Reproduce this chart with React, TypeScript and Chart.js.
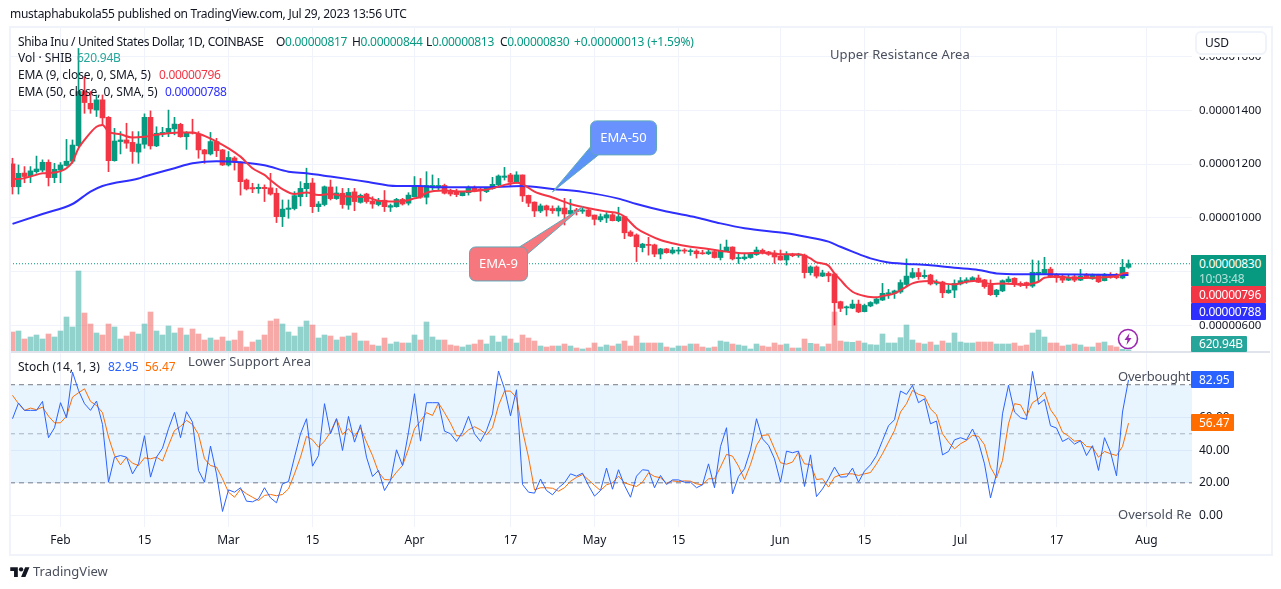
import { useEffect, useRef } from 'react';
import { Chart, registerables } from 'chart.js';

Chart.register(...registerables);

// prices are kept in units of 0.00000001 USD, one entry per day from Jan 24 to Jul 29
const candleOpen = [
  1201,1116,1167,1156,1172,1178,1207,1150,1178,1195, 1211,1269,1470,1426,1401,1439,1374,1213,1284,1290,
  1281,1245,1274,1374,1268,1312,1318,1331,1348,1302, 1318,1312,1253,1238,1284,1253,1197,1223,1207,1141,
  1113,1109,1114,1112,1092,1005,1032,1035,1079,1109, 1130,1042,1050,1115,1072,1092,1048,1097,1058,1089,
  1063,1050,1066,1040,1042,1069,1055,1079,1119,1077, 1112,1112,1121,1098,1098,1083,1094,1114,1107,1098,
  1109,1123,1151,1160,1131,1160,1084,1059,1026,1045, 1035,1026,1037,1015,1030,1025,1030,1011,993,1000,
  1012,990,1005,948,937,890,902,900,866,885, 870,877,881,875,877,870,867,875,853,877,
  892,849,849,853,864,880,874,870,859,844, 865,861,862,797,818,784,794,792,689,666,
  665,680,652,673,683,695,717,720,725,753, 779,797,782,788,757,762,722,732,755,763,
  767,777,770,751,715,729,763,776,757,760, 747,794,794,810,790,784,769,782,769,788,
  774,788,767,788,791,777,817,
];
const candleHigh = [
  1222,1197,1191,1191,1230,1216,1216,1203,1206,1292, 1290,1630,1525,1470,1457,1457,1377,1333,1321,1352,
  1321,1321,1387,1398,1339,1337,1401,1374,1352,1321, 1367,1321,1255,1318,1296,1255,1247,1228,1209,1145,
  1129,1126,1123,1166,1110,1067,1067,1098,1135,1185, 1147,1061,1119,1141,1116,1110,1110,1110,1089,1092,
  1079,1073,1102,1052,1073,1073,1094,1154,1147,1172, 1160,1147,1126,1107,1107,1099,1119,1119,1114,1114,
  1151,1160,1188,1166,1172,1160,1085,1060,1052,1048, 1045,1045,1073,1069,1036,1040,1032,1011,1015,1020,
  1017,1040,1005,953,941,906,928,903,887,887, 891,891,886,885,882,880,882,879,903,918,
  893,869,869,871,892,885,876,879,881,875, 869,869,866,822,822,806,800,794,691,673,
  695,695,680,689,701,757,735,732,770,848, 813,813,807,791,770,765,751,770,779,778,
  782,788,772,770,735,770,782,778,763,762, 844,841,854,817,794,791,788,791,809,794,
  792,791,794,797,794,846,844,
];
const candleLow = [
  1089,1089,1131,1131,1166,1172,1119,1131,1131,1193, 1203,1265,1389,1389,1377,1346,1172,1211,1238,1259,
  1203,1203,1259,1256,1265,1302,1302,1309,1300,1255, 1312,1222,1203,1234,1228,1195,1193,1178,1085,1104,
  1094,1092,1061,1085,983,968,999,1030,1045,1079, 1020,1024,1045,1067,1069,1036,1032,1027,1055,1055,
  1036,1045,1024,1024,1040,1048,1048,1079,1073,1052, 1104,1104,1089,1082,1079,1082,1085,1097,1063,1094,
  1107,1119,1141,1119,1129,1061,1042,1005,1020,1007, 1017,1007,974,1011,1011,1017,1005,974,986,983,
  989,986,923,931,838,874,862,856,848,869, 866,866,869,861,851,865,864,851,844,875,
  844,831,844,850,861,866,861,831,843,825, 856,854,777,788,777,782,763,602,652,640,
  663,648,651,670,680,693,701,701,720,745, 776,772,776,751,751,704,720,704,751,757,
  763,760,739,712,707,726,761,745,745,739, 742,763,792,778,761,760,767,763,767,776,
  772,760,766,776,774,774,813,
];
const candleClose = [
  1116,1166,1154,1175,1182,1207,1150,1181,1197,1211, 1271,1470,1429,1405,1439,1372,1213,1286,1290,1278,
  1247,1275,1374,1268,1315,1318,1333,1349,1302,1315, 1315,1253,1238,1284,1250,1197,1225,1207,1135,1108,
  1108,1114,1109,1089,1005,1033,1037,1083,1110,1129, 1042,1052,1116,1072,1093,1050,1095,1061,1084,1061,
  1052,1063,1042,1046,1069,1052,1085,1119,1077,1121, 1121,1121,1092,1089,1087,1097,1114,1099,1104,1112,
  1125,1156,1156,1133,1160,1082,1055,1026,1045,1030, 1027,1037,1015,1028,1024,1030,1007,995,1005,1012,
  990,1005,945,933,893,903,898,866,885,871, 881,881,877,877,867,867,874,853,880,892,
  848,853,855,867,881,871,865,855,844,862, 860,865,797,818,784,796,785,685,664,670,
  680,651,675,686,699,720,722,729,760,784, 797,782,787,755,761,722,732,757,767,770,
  778,761,745,715,732,767,773,753,751,749, 798,798,809,782,778,769,779,769,784,782,
  788,763,791,779,778,817,830,
];

// volume in billions of SHIB
const volume = [
  6000,6300,3900,4500,5100,3900,5400,4500,6300,10500, 7500,24300,11700,8400,5700,5100,8400,7500,3900,4800,
  6000,5400,8400,12000,6300,5100,7800,5700,7200,5100, 6900,5400,3600,4200,3600,4500,3300,3600,6300,1500,
  3000,3600,5100,9300,9900,8400,6000,4800,7500,9300, 8100,4200,5100,4800,3600,4500,4800,5700,3300,3300,
  2100,1800,4200,2400,3000,2700,2700,5100,3600,9000, 4500,3600,3600,2100,1800,1500,2100,2400,3600,2400,
  4800,3000,4800,3900,2700,5100,4200,3300,1800,1500, 1800,1800,2400,1800,1200,900,1200,2700,1500,2100,
  1800,2400,3300,1800,4800,2700,2700,2700,2700,1500, 1200,1800,1800,2400,2400,1500,1200,1500,3300,3000,
  2400,2100,1800,900,2400,1800,1500,2700,2100,2400, 1200,1200,3900,2600,2400,1600,2400,12000,3300,3000,
  2900,3300,2700,2200,2100,5400,2700,2700,4300,8100, 3600,2700,2400,3000,2100,3300,2700,5700,3000,2700,
  2700,3000,3000,3000,2400,2400,2400,2700,1800,2100, 5700,6600,4500,2700,2700,1800,2100,2400,2100,1500,
  1500,2700,3000,1900,1500,800,621,
];

const ema9Days = [
  0,1,3,5,7,9,10,11,12,14,15,16,18,20,22,24,26,28,30,32,34,36,38,40,42,43,45,47,49,51,53,55,57,59,61,63,65,67,68,
  69,72,75,78,80,82,84,85,87,90,93,96,99,101,102,104,106,108,110,113,116,119,122,125,128,131,132,133,134,135,136,
  137,138,139,140,141,142,143,144,145,146,147,148,149,150,151,153,155,157,159,161,163,165,167,169,170,171,172,174,
  177,180,183,184,185,186,
];
const ema9Values = [
  1145,1145,1154,1166,1169,1185,1209,1259,1290,1339,1346,1321,1311,1299,1302,1309,1315,1318,1318,1305,1284,1259,1228,1185,1160,1141,1107,1089,1095,1085,1089,1082,1079,1077,1064,1061,1062,1073,1079,
  1094,1102,1098,1102,1110,1123,1131,1126,1098,1076,1052,1036,1024,1017,1005,962,937,918,906,893,885,875,869,871,865,865,860,850,835,831,823,
  794,770,745,726,716,710,706,705,710,714,720,732,745,757,763,766,757,753,763,767,755,757,755,751,757,763,778,782,
  777,778,782,784,794,796,
];
const ema50Days = [0,5,10,13,15,21,22,27,30,34,38,42,46,49,53,59,64,68,71,78,85,90,95,101,104,109,114,118,122,129,132,136,138,140,143,146,148,153,157,161,164,168,173,186];
const ema50Values = [978,1015,1052,1098,1119,1147,1154,1185,1203,1211,1207,1196,1172,1166,1154,1135,1119,1119,1114,1114,1119,1108,1097,1072,1052,1024,1002,980,962,943,931,912,893,875,850,835,831,824,815,807,794,791,791,788];

const stochK = [
  59.2,68.8,64.3,64.3,64.3,69.8,47.6,53.7,69,59.8, 87.7,76.5,68.4,64.3,70,55.7,20.4,35.7,36.7,35.7,
  25.5,31.6,48.8,23.5,35.7,41.2,53.1,63.1,47.6,63.5, 57.1,27.6,20.4,42.5,25.5,2.5,15.7,14.3,17,8.8,
  8.4,10.2,17,10.8,7.8,19.4,20.8,35.7,50,59.2, 30.2,36.7,68.4,50,59.2,39.8,60.6,44.9,55.5,35.7,
  23.9,27.6,15.3,21.4,40.2,30.6,51,74.5,45.5,69, 69,69,51.6,50,45.3,51,60.6,50,45.3,52,
  62.2,88.4,77.5,61,76.9,19,14.3,13.7,22.3,15.3, 12.7,17,20,25.5,24.1,25.9,18.4,11.9,15.3,29,
  16.1,28,18.4,11.2,24.1,28,27.6,17,24.5,19, 21.8,21.8,20.4,20.4,17,18.8,31.6,17,42.2,53.7,
  13.3,23.9,28.6,40.2,59.2,46.9,42.9,34.7,20.4,39.4, 38.4,39.4,17.8,37.1,11.6,16.3,22.5,29.6,23.5,23.7,
  29,20.4,27.2,31,36.7,45.9,54.9,58.6,76.1,74.1, 79.6,69,71.4,56.1,57.8,37.1,39.2,46.3,47.6,46.3,
  52.9,44.9,31.6,10.8,25.5,62.2,79.6,63.3,59.8,58.8, 88.1,68,71,54.9,53.5,45.3,47.3,43.7,45.7,36.7,
  42.7,27.6,47.6,38.8,24.3,63.3,82.95,
];
const stochD = [
  73.5,68.4,64.3,65.7,64.7,66.3,60.8,56.7,56.7,60.8, 72.4,75.1,77.5,69.8,67.3,62.9,48,36.7,31,35.7,
  32,30.6,35.3,34.7,35.7,33.3,42.9,52,54.5,58.2, 55.7,49.6,34.7,30.6,29.6,22.5,14.3,11.2,16.1,13.3,
  11.2,9.2,12.3,12.9,12.1,12.9,16.3,25.5,35.7,48.4, 46.3,41.8,45.5,51,59.2,49.6,53.1,48.4,53.7,44.9,
  36.7,26.5,22,21.8,26.5,30.6,40.8,53.1,57.8,62.9, 61.2,68.8,62.9,56.5,48.8,48.8,52.4,54.3,52.4,49.4,
  53.7,67.3,76.1,76.1,72,52,35.7,15.7,17,17, 16.7,14.9,17,21,23.3,25.1,21.8,18.4,15.3,18.8,
  20,24.1,20,18.8,17.8,20.4,26.1,23.9,23.1,19.8, 21.2,20.8,21.2,21,19.4,18.8,22.5,22.5,29.6,37.4,
  36.3,30.2,22,31.2,42.9,49,49.4,40.8,32.3,31.4, 32.7,38.8,31.6,31.2,22,22.5,17.4,23.5,24.9,25.5,
  25.5,24.5,25.5,26.3,31.6,37.8,44.9,52,63.3,68.4, 76.5,74.1,73,65.3,61.6,50,44.9,40.8,43.9,45.9,
  49,48.4,43.3,29.6,23.1,33.7,56.1,68.4,67.7,60.8, 69,71.4,75.5,64.7,59.6,51,48.6,45.5,45.9,42.2,
  41.8,35.7,39.2,37.8,36.7,42.2,56.47,
];

const lastPrice = 830;
const priceTicks = [600, 800, 1000, 1200, 1400, 1600];
const stochTicks = [0, 20, 40, 60];
const dateTicks = [8, 22, 36, 50, 67, 83, 97, 111, 128, 142, 158, 174, 189];
const dateLabels = ['Feb', '15', 'Mar', '15', 'Apr', '17', 'May', '15', 'Jun', '15', 'Jul', '17', 'Aug'];

const UP = '#089981';
const DOWN = '#F23645';
const EMA_BLUE = '#2E2EFF';
const FONT = '"Noto Sans", sans-serif';
const X_MIN = -2.5 / 6;
const X_MAX = 1179.5 / 6;

// callout tips are anchored to the chart values they point at
const callouts = [
  { label: 'EMA-50', day: 90, price: 1097, fill: '#6A92FF', tail: '#5B93F6', box: [38, -71, 66, 34], join: [[38, -45], [46, -37]] },
  { label: 'EMA-9', day: 95, price: 1041, fill: '#F7777F', tail: '#F7777F', box: [-113, 40, 58, 34], join: [[-63, 40], [-55, 47]] },
];

const calloutPlugin = {
  id: 'callouts',
  afterDatasetsDraw(chart: any) {
    const { ctx, scales } = chart;
    // line between the price and stochastic panes
    ctx.save();
    ctx.fillStyle = '#E0E3EB';
    ctx.fillRect(10, Math.round(scales.yStoch.top) - 1, 1260, 2);
    for (const c of callouts) {
      const tipX = scales.x.getPixelForValue(c.day);
      const tipY = scales.y.getPixelForValue(c.price);
      const [dx, dy, w, h] = c.box;
      ctx.beginPath();
      ctx.moveTo(tipX + c.join[0][0], tipY + c.join[0][1]);
      ctx.lineTo(tipX, tipY);
      ctx.lineTo(tipX + c.join[1][0], tipY + c.join[1][1]);
      ctx.fillStyle = c.tail;
      ctx.fill();
      ctx.strokeStyle = '#5FA8B8';
      ctx.lineWidth = 1;
      ctx.stroke();
      ctx.beginPath();
      ctx.roundRect(tipX + dx, tipY + dy, w, h, 6);
      ctx.fillStyle = c.fill;
      ctx.fill();
      ctx.stroke();
      ctx.fillStyle = '#FFFFFF';
      ctx.font = `13px ${FONT}`;
      ctx.textAlign = 'center';
      ctx.textBaseline = 'middle';
      ctx.fillText(c.label, tipX + dx + w / 2, tipY + dy + h / 2);
    }
    ctx.restore();
  },
};

function Txt({ x, y, color = '#131722', size = 12, ls = 0, children, clip }: any) {
  return (
    <div style={{ position: 'absolute', left: x, top: y - 10, height: 20, lineHeight: '20px', fontSize: size, color, letterSpacing: ls, whiteSpace: 'nowrap', overflow: clip ? 'hidden' : undefined, width: clip }}>
      {children}
    </div>
  );
}

function Tag({ top, height, width = 75, bg, ls = 0, children }: any) {
  return (
    <div style={{ position: 'absolute', left: 1191, top, width, height, background: bg, color: '#fff', fontSize: 12, letterSpacing: ls, lineHeight: `${height}px`, paddingLeft: 8, boxSizing: 'border-box', borderRadius: 1 }}>
      {children}
    </div>
  );
}

export default function App() {
  const chartRef = useRef<HTMLCanvasElement>(null);

  useEffect(() => {
    if (!chartRef.current) return;
    const days = candleOpen.map((_, i) => i);
    const isUp = days.map(i => candleClose[i] >= candleOpen[i]);
    const colors = isUp.map(up => (up ? UP : DOWN));
    const hline = (y: number) => [{ x: X_MIN, y }, { x: X_MAX, y }];

    const chart = new Chart(chartRef.current, {
      type: 'line',
      data: {
        datasets: [
          { type: 'line', data: hline(80), yAxisID: 'yStoch', borderColor: '#787B86', borderWidth: 1, borderDash: [5, 4], pointRadius: 0, fill: '+1', backgroundColor: 'rgba(33,150,243,0.1)', order: 9 },
          { type: 'line', data: hline(20), yAxisID: 'yStoch', borderColor: '#787B86', borderWidth: 1, borderDash: [5, 4], pointRadius: 0, order: 9 },
          { type: 'line', data: hline(50), yAxisID: 'yStoch', borderColor: 'rgba(120,123,134,0.55)', borderWidth: 1, borderDash: [5, 4], pointRadius: 0, order: 9 },
          { type: 'line', data: hline(lastPrice), yAxisID: 'y', borderColor: UP, borderWidth: 1, borderDash: [1, 2], pointRadius: 0, order: 8 },
          {
            type: 'bar',
            data: days.map(i => ({ x: i, y: volume[i] })),
            yAxisID: 'yVol',
            backgroundColor: isUp.map(up => (up ? 'rgba(38,166,154,0.5)' : 'rgba(239,83,80,0.5)')),
            barThickness: 5,
            grouped: false,
            order: 7,
          },
          {
            type: 'bar',
            data: days.map(i => ({ x: i, y: [candleLow[i], candleHigh[i]] })),
            yAxisID: 'y',
            backgroundColor: colors,
            barThickness: 1,
            grouped: false,
            order: 6,
          },
          {
            type: 'bar',
            data: days.map(i => ({ x: i, y: [candleOpen[i], candleClose[i]] })),
            yAxisID: 'y',
            backgroundColor: colors,
            barThickness: 5,
            minBarLength: 1,
            grouped: false,
            order: 5,
          },
          { type: 'line', data: ema50Days.map((d, i) => ({ x: d, y: ema50Values[i] })), yAxisID: 'y', borderColor: EMA_BLUE, borderWidth: 2, pointRadius: 0, cubicInterpolationMode: 'monotone', order: 4 },
          { type: 'line', data: ema9Days.map((d, i) => ({ x: d, y: ema9Values[i] })), yAxisID: 'y', borderColor: DOWN, borderWidth: 2, pointRadius: 0, cubicInterpolationMode: 'monotone', order: 3 },
          { type: 'line', data: days.map(i => ({ x: i, y: stochD[i] })), yAxisID: 'yStoch', borderColor: '#FF6D00', borderWidth: 1, pointRadius: 0, order: 2 },
          { type: 'line', data: days.map(i => ({ x: i, y: stochK[i] })), yAxisID: 'yStoch', borderColor: '#2962FF', borderWidth: 1, pointRadius: 0, order: 1 },
        ] as any,
      },
      options: {
        responsive: false,
        animation: false,
        events: [],
        layout: { padding: { left: 10, top: 28, right: 11, bottom: 36 } },
        plugins: { legend: { display: false }, tooltip: { enabled: false } },
        scales: {
          x: {
            type: 'linear',
            min: X_MIN,
            max: X_MAX,
            offset: false,
            afterBuildTicks: (s: any) => { s.ticks = dateTicks.map(value => ({ value })); },
            afterFit: (s: any) => { s.height = 26; },
            grid: { color: '#F0F3FA', offset: false, drawTicks: false },
            border: { display: false },
            ticks: {
              autoSkip: false,
              maxRotation: 0,
              padding: 6,
              color: '#131722',
              font: { family: FONT, size: 12 },
              callback: (v: any) => dateLabels[dateTicks.indexOf(v)],
            },
          },
          y: {
            type: 'linear',
            position: 'right',
            stack: 'panes',
            stackWeight: 324,
            min: 502,
            max: 1706,
            afterBuildTicks: (s: any) => { s.ticks = priceTicks.map(value => ({ value })); },
            afterFit: (s: any) => { s.width = 78; },
            grid: { color: '#F0F3FA', drawTicks: false },
            border: { display: false },
            ticks: {
              autoSkip: false,
              padding: 7,
              color: '#131722',
              font: { family: FONT, size: 11.5 },
              callback: (v: any) => (v / 1e8).toFixed(8),
            },
          },
          yStoch: {
            type: 'linear',
            position: 'right',
            stack: 'panes',
            stackWeight: 175,
            min: -7,
            max: 100,
            afterBuildTicks: (s: any) => { s.ticks = stochTicks.map(value => ({ value })); },
            afterFit: (s: any) => { s.width = 78; },
            grid: { color: '#F0F3FA', drawTicks: false },
            border: { display: false },
            ticks: {
              autoSkip: false,
              padding: 7,
              color: '#131722',
              font: { family: FONT, size: 12 },
              callback: (v: any) => v.toFixed(2),
            },
          },
          // hidden, spans the whole chart height, zero sits on the pane divider
          yVol: { type: 'linear', display: false, position: 'right', min: -52500, max: 97200 },
        },
      },
      plugins: [calloutPlugin],
    } as any);

    return () => chart.destroy();
  }, []);

  const green = '#089981';
  return (
    <div style={{ position: 'absolute', left: 0, top: 0, width: 1281, height: 589, fontFamily: FONT, background: '#fff', overflow: 'hidden' }}>
      <canvas ref={chartRef} width={1281} height={589} style={{ position: 'absolute', left: 0, top: 0 }} />
      <div style={{ position: 'absolute', left: 9, top: 26, width: 1260, height: 526, border: '2px solid #F0F3FA', pointerEvents: 'none' }} />

      <Txt x={10} y={14} ls={-0.27}>mustaphabukola55 published on TradingView.com, Jul 29, 2023 13:56 UTC</Txt>
      <Txt x={18} y={42} ls={-0.33}>Shiba Inu / United States Dollar, 1D, COINBASE</Txt>
      <Txt x={276} y={42} ls={-0.3}>O<span style={{ color: green }}>0.00000817</span></Txt>
      <Txt x={352} y={42} ls={-0.3}>H<span style={{ color: green }}>0.00000844</span></Txt>
      <Txt x={426} y={42} ls={-0.3}>L<span style={{ color: green }}>0.00000813</span></Txt>
      <Txt x={500} y={42} ls={-0.3}>C<span style={{ color: green }}>0.00000830</span></Txt>
      <Txt x={574} y={42} ls={-0.15} color={green}>+0.00000013 (+1.59%)</Txt>
      <Txt x={18} y={58}>Vol · SHIB</Txt>
      <Txt x={77} y={58} ls={-0.25} color="#26A69A">620.94B</Txt>
      <Txt x={18} y={75} ls={-0.1}>EMA (9, close, 0, SMA, 5)</Txt>
      <Txt x={159} y={75} ls={-0.35} color={DOWN}>0.00000796</Txt>
      <Txt x={18} y={92} ls={-0.1}>EMA (50, close, 0, SMA, 5)</Txt>
      <Txt x={165} y={92} ls={-0.35} color={EMA_BLUE}>0.00000788</Txt>
      <Txt x={18} y={367}>Stoch (14, 1, 3)</Txt>
      <Txt x={108} y={367} color="#2962FF">82.95</Txt>
      <Txt x={145} y={367} color="#FF6D00">56.47</Txt>

      <Txt x={830} y={54} size={13} ls={0.1} color="#4A4F5C">Upper Resistance Area</Txt>
      <Txt x={188} y={361} size={13} ls={0.1} color="#4A4F5C">Lower Support Area</Txt>
      <Txt x={1118} y={376} size={13} ls={-0.2} color="#4A4F5C">Overbought</Txt>
      <Txt x={1118} y={514} size={13} color="#4A4F5C" clip={73}>Oversold Region</Txt>

      <div style={{ position: 'absolute', left: 1195, top: 31, width: 72, height: 24, background: '#fff', border: '2px solid #F0F3FA', borderRadius: 6, boxShadow: '0 2px 0 #fff', fontSize: 12, lineHeight: '20px', paddingLeft: 8, boxSizing: 'border-box', color: '#131722' }}>USD</div>

      <div style={{ position: 'absolute', left: 1191, top: 255, width: 75, height: 31, background: UP, color: '#fff', fontSize: 12, letterSpacing: -0.3, lineHeight: '15px', paddingTop: 1, paddingLeft: 8, boxSizing: 'border-box' }}>
        0.00000830<br /><span style={{ opacity: 0.7 }}>10:03:48</span>
      </div>
      <Tag top={286} height={17} ls={-0.3} bg={DOWN}>0.00000796</Tag>
      <Tag top={303} height={17} ls={-0.3} bg={EMA_BLUE}>0.00000788</Tag>
      <Tag top={336} height={16} width={56} ls={-0.2} bg="#26A69A">620.94B</Tag>
      <Tag top={371} height={17} width={43} bg="#2962FF">82.95</Tag>
      <Tag top={414} height={17} width={43} bg="#FF6D00">56.47</Tag>

      <svg style={{ position: 'absolute', left: 1117, top: 328 }} width="22" height="22" viewBox="0 0 22 22">
        <circle cx="11" cy="11" r="9.5" fill="#fff" stroke="#9C27B0" strokeWidth="1.6" />
        <path d="M12.5 5 7.5 12h3l-1 5 5-7h-3z" fill="#9C27B0" />
      </svg>

      <svg style={{ position: 'absolute', left: 10, top: 565 }} width="20" height="13" viewBox="0 0 36 24">
        <path d="M14 22H7V11H0V4h14v18zM28 22h-8l7.5-18h8L28 22z" fill="#131722" />
        <circle cx="20" cy="8" r="4" fill="#131722" />
      </svg>
      <Txt x={33} y={571} size={13} color="#4A4F5C">TradingView</Txt>
    </div>
  );
}
